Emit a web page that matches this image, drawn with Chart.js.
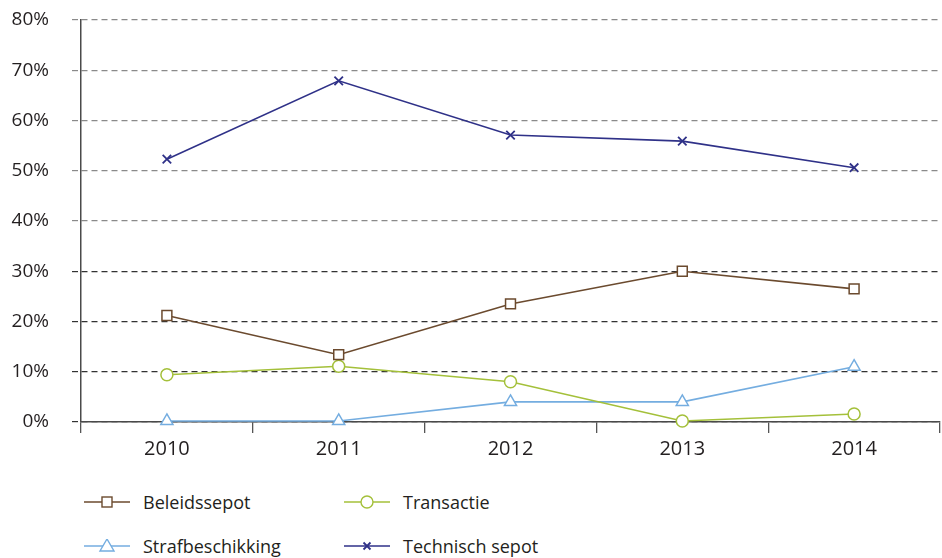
<!DOCTYPE html>
<html>
<head>
<meta charset="utf-8">
<script src="https://cdn.jsdelivr.net/npm/chart.js@4/dist/chart.umd.min.js"></script>
<style>
  html, body { margin: 0; padding: 0; background: #fff; overflow: hidden; }
  #wrap { position: relative; width: 942px; height: 558px; font-family: "Open Sans", sans-serif; }
  #chartBox { position: absolute; left: 0; top: 0; width: 942px; height: 470px; }
  .item { position: absolute; display: flex; align-items: center; font-size: 18px; color: #231f20; height: 24px; }
  .item svg { margin-right: 13px; }
</style>
</head>
<body>
<div id="wrap">
  <div id="chartBox"><canvas id="mainChart"></canvas></div>
  <div id="legend"></div>
</div>
<script>
const years = ['2010', '2011', '2012', '2013', '2014'];
const yTicks = [0, 10, 20, 30, 40, 50, 60, 70, 80];

const beleidssepot = [21.2, 13.4, 23.5, 30.0, 26.5];
const transactie = [9.4, 11.1, 8.0, 0.2, 1.6];
const strafbeschikking = [0.2, 0.2, 4.0, 4.0, 11.0];
const technischSepot = [52.3, 67.9, 57.1, 55.9, 50.6];

const seriesNames = ['Beleidssepot', 'Transactie', 'Strafbeschikking', 'Technisch sepot'];
const seriesColors = ['#6b4a2e', '#a4c03a', '#74ade0', '#2f3188'];
const seriesStyles = ['rect', 'circle', 'triangle', 'crossRot'];
const seriesRadius = [7, 6, 7, 6];

let makeSet = (i, data) => ({
  label: seriesNames[i],
  data: data,
  borderColor: seriesColors[i],
  borderWidth: 1.6,
  pointStyle: seriesStyles[i],
  pointRadius: seriesRadius[i],
  pointBorderWidth: i === 3 ? 1.8 : 1.5,
  pointBackgroundColor: '#fff',
  pointBorderColor: seriesColors[i],
  tension: 0,
  clip: false
});

let ctx = document.getElementById('mainChart').getContext('2d');
let chart = new Chart(ctx, {
  type: 'line',
  data: {
    labels: years,
    datasets: [
      makeSet(0, beleidssepot),
      makeSet(1, transactie),
      makeSet(2, strafbeschikking),
      makeSet(3, technischSepot)
    ]
  },
  options: {
    responsive: true,
    maintainAspectRatio: false,
    animation: false,
    layout: { autoPadding: false, padding: { top: 20, right: 2, left: 0, bottom: 0 } },
    plugins: { legend: { display: false }, tooltip: { enabled: false } },
    scales: {
      x: {
        offset: true,
        afterFit: (scale) => { scale.height = 48; },
        grid: {
          offset: true,
          drawOnChartArea: false,
          tickLength: 11,
          color: '#555',
          lineWidth: 1.3
        },
        border: { color: '#4a4a4a', width: 1.5 },
        ticks: {
          color: '#231f20',
          padding: 4,
          font: { family: 'Open Sans', size: 20 }
        }
      },
      y: {
        min: 0,
        max: 80,
        afterFit: (scale) => {
          scale.width = 81;
          scale.paddingTop = 0;
          scale.paddingBottom = 0;
        },
        afterBuildTicks: (scale) => { scale.ticks = yTicks.map(v => ({ value: v })); },
        grid: {
          color: (c) => (c.tick && c.tick.value >= 40 ? '#8a8a8a' : '#333'),
          lineWidth: 1.2,
          tickLength: 9,
          tickBorderDash: [6, 4]
        },
        border: { color: '#4a4a4a', width: 1.5, dash: [6, 4] },
        ticks: {
          color: '#231f20',
          padding: 23,
          font: { family: 'Open Sans', size: 19 },
          callback: (v) => v + '%'
        }
      }
    }
  }
});

// legend in two columns under the chart
let legendPos = [[84, 490], [344, 490], [84, 534], [344, 534]];
let iconFor = (i) => {
  let c = seriesColors[i], m;
  if (i === 0) m = '<rect x="18" y="2" width="10" height="10" fill="#fff" stroke="' + c + '" stroke-width="1.4"/>';
  if (i === 1) m = '<circle cx="23" cy="7" r="6" fill="#fff" stroke="' + c + '" stroke-width="1.4"/>';
  if (i === 2) m = '<polygon points="23,0 30,12 16,12" fill="#fff" stroke="' + c + '" stroke-width="1.4"/>';
  if (i === 3) m = '<path d="M19.5 3.5 L26.5 10.5 M26.5 3.5 L19.5 10.5" stroke="' + c + '" stroke-width="1.8"/>';
  return '<svg width="46" height="14"><line x1="0" y1="7" x2="46" y2="7" stroke="' + c + '" stroke-width="1.4"/>' + m + '</svg>';
};
let legend = document.getElementById('legend');
seriesNames.forEach((name, i) => {
  let d = document.createElement('div');
  d.className = 'item';
  d.style.left = legendPos[i][0] + 'px';
  d.style.top = legendPos[i][1] + 'px';
  d.innerHTML = iconFor(i) + '<span>' + name + '</span>';
  legend.appendChild(d);
});
</script>
</body>
</html>
